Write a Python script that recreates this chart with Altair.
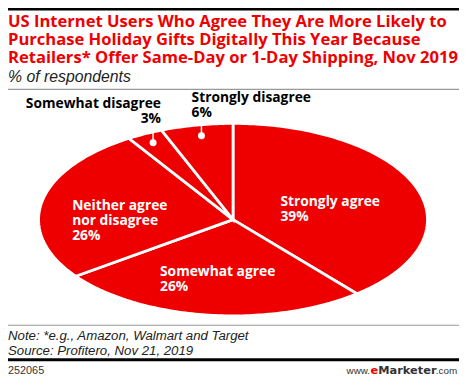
import altair as alt
import numpy as np
import pandas as pd

# ---- data ----
categories = ["Strongly agree", "Somewhat agree", "Neither agree nor disagree",
              "Somewhat disagree", "Strongly disagree"]
values = [39, 26, 26, 3, 6]
label_lines = [["Strongly agree"], ["Somewhat agree"], ["Neither agree", "nor disagree"],
               ["Somewhat disagree"], ["Strongly disagree"]]

title_lines = ["US Internet Users Who Agree They Are More Likely to",
               "Purchase Holiday Gifts Digitally This Year Because",
               "Retailers* Offer Same-Day or 1-Day Shipping, Nov 2019"]
subtitle = "% of respondents"
note = "Note: *e.g., Amazon, Walmart and Target"
source = "Source: Profitero, Nov 21, 2019"
chart_id = "252065"

RED = "#ee0000"
BOLD = "Open Sans"
REG = "Liberation Sans"
LOGO = "DejaVu Sans"
M = 8  # page margin offset (screen -> chart coords)

# ---- pie wedges (ellipse, built from the values) ----
rows = []
total = sum(values)
cum = 0
for c, v in zip(categories, values):
    t0 = cum / total * 2 * np.pi
    t1 = (cum + v) / total * 2 * np.pi
    n = max(3, int(np.ceil(v * 3.6)))
    rows.append(dict(slice=c, k=0, px=0.0, py=0.0))
    for j, t in enumerate(np.linspace(t0, t1, n + 1)):
        rows.append(dict(slice=c, k=j + 1, px=float(np.sin(t)), py=float(np.cos(t))))
    cum += v
pie_df = pd.DataFrame(rows)

cx, cy, a, b = 236 - M, 220 - M, 197, 97.5
pie = alt.Chart(pie_df).mark_line(
    interpolate="linear-closed", filled=True, fill=RED, stroke="white",
    strokeWidth=2.8, strokeJoin="miter"
).encode(
    x=alt.X("px:Q", scale=alt.Scale(domain=[-1, 1], range=[cx - a, cx + a]), axis=None),
    y=alt.Y("py:Q", scale=alt.Scale(domain=[-1, 1], range=[cy + b, cy - b]), axis=None),
    detail="slice:N",
    order="k:Q",
)


def text(t, x, y, size, font=BOLD, weight="bold", style="normal", color="black",
         align="left", lh=None):
    kw = {}
    if lh is not None:
        kw["lineHeight"] = lh
    return alt.Chart(pd.DataFrame({"t": [t]})).mark_text(
        font=font, fontSize=size, fontWeight=weight, fontStyle=style, color=color,
        align=align, baseline="top", lineBreak="\n", **kw
    ).encode(text="t:N", x=alt.value(x - M), y=alt.value(y - M))


def hline(y, color, width, x0=5, x1=465):
    return alt.Chart(pd.DataFrame({"v": [0]})).mark_rule(color=color, strokeWidth=width).encode(
        x=alt.value(x0 - M), x2=alt.value(x1 - M), y=alt.value(y - M))


layers = [pie]

# title & subtitle (y = top of first line)
layers.append(text("\n".join(title_lines), 8, 20 - 8.5, 16.8, color=RED, lh=18.5))
layers.append(text(subtitle, 8, 76 - 8, 16, font=REG, weight="normal", style="italic", color="#222"))

# rules
layers.append(hline(6.5, "black", 3))
layers.append(hline(88, "#999999", 1.2))
layers.append(hline(327, "#999999", 1.2))
layers.append(hline(362, "black", 3))

# pie labels
pos = {
    0: (284, 202, "white", "left"),
    1: (162, 273, "white", "left"),
    2: (73, 206, "white", "left"),
    3: (163, 103, "black", "right"),
    4: (194, 97, "black", "left"),
}
for i, (lines, v) in enumerate(zip(label_lines, values)):
    x, y, col, al = pos[i]
    lab = "\n".join(lines + [f"{v}%"])
    layers.append(text(lab, x, y - 7, 14, color=col, align=al, lh=15.5))

# leader lines and dots for small slices
for (x, y0, y1) in [(155, 125, 142), (204, 119, 135)]:
    layers.append(alt.Chart(pd.DataFrame({"v": [0]})).mark_rule(color="white", strokeWidth=1.5).encode(
        x=alt.value(x - M), y=alt.value(y0 - M), y2=alt.value(y1 - M)))
    layers.append(alt.Chart(pd.DataFrame({"v": [0]})).mark_circle(color="white", opacity=1, size=50).encode(
        x=alt.value(x - M), y=alt.value(y1 - M)))

# footer
layers.append(text(note + "\n" + source, 8, 338 - 7, 13.4, font=REG, weight="normal",
                   style="italic", color="#222", lh=15))
layers.append(text(chart_id, 8, 373 - 5.5, 11, font=REG, weight="normal", color="#333"))
layers.append(text("www.", 351, 373 - 5, 10, font=REG, weight="normal", color="#333"))
layers.append(text("e", 375.4, 373 - 6, 11.5, font=LOGO, weight="bold", color=RED))
layers.append(text("Marketer", 383.2, 373 - 6, 11.5, font=LOGO, weight="bold", color="#333"))
layers.append(text(".com", 441.5, 373 - 5, 10, font=REG, weight="normal", color="#333"))

chart = alt.layer(*layers).properties(
    width=460, height=369, padding=0, autosize=alt.AutoSizeParams(type="none")
).configure_view(stroke=None)

chart.save("out.html", embed_options={"renderer": "svg", "actions": False})
